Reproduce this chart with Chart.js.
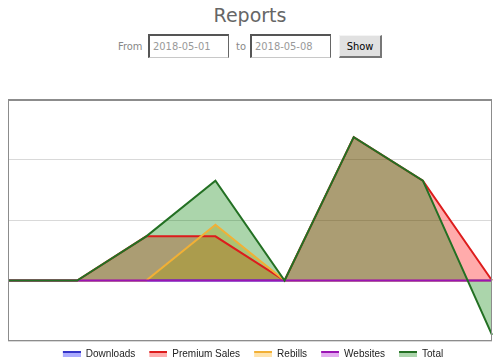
<!DOCTYPE html>
<html>
<head>
<meta charset="utf-8">
<script src="https://cdn.jsdelivr.net/npm/chart.js@4.4.1/dist/chart.umd.min.js"></script>
<style>
  html, body { margin: 0; padding: 0; background: #fff; }
  body { width: 500px; height: 358px; overflow: hidden; position: relative;
         font-family: "DejaVu Sans Condensed", "DejaVu Sans", sans-serif; }
  #title { position: absolute; left: 0; top: 4px; width: 500px; text-align: center;
           font: 19px/22px "DejaVu Sans", sans-serif; color: #666; }
  .lbl { position: absolute; top: 40px; font-size: 11px; line-height: 13px; color: #888; }
  .box { position: absolute; top: 34px; width: 81px; height: 24px; box-sizing: border-box;
         border: 1px solid #666; border-top: 2px solid #555; border-left: 2px solid #555;
         border-bottom-color: #c8c8c8; background: #fff;
         font-size: 11px; line-height: 13px; color: #999; padding: 4px 0 0 3px; }
  #show { position: absolute; left: 339px; top: 35px; width: 43px; height: 23px; box-sizing: border-box;
          background: #e1e1e1; border: 1px solid #f4f4f4; border-right: 2px solid #777; border-bottom: 2px solid #777;
          font-size: 11px; line-height: 13px; color: #000; text-align: center; padding-top: 4px; }
  #c { position: absolute; left: 0; top: 90px; }
</style>
</head>
<body>
<div id="title">Reports</div>
<div class="lbl" style="left:118px">From</div>
<div class="box" style="left:148px">2018-05-01</div>
<div class="lbl" style="left:236px">to</div>
<div class="box" style="left:250px">2018-05-08</div>
<div id="show">Show</div>
<canvas id="c" width="500" height="279"></canvas>
<script>
// ---- data ----
const labels = ['2018-05-01', '2018-05-02', '2018-05-03', '2018-05-04',
                '2018-05-05', '2018-05-06', '2018-05-07', '2018-05-08'];
const seriesNames = ['Downloads', 'Premium Sales', 'Rebills', 'Websites', 'Total'];
const downloads    = [0, 0, 0, 0, 0, 0, 0, 0];
const premiumSales = [0, 0, 73, 73, 0, 237, 165, 0];
const rebills      = [0, 0, 0, 92, 0, 0, 0, 0];
const websites     = [0, 0, 0, 0, 0, 0, 0, 0];
const total        = [0, 0, 73, 165, 0, 237, 165, -90];
const yMin = -100, yMax = 300, yStep = 100;

// ---- styles ----
const lineColors = ['#3535c8', '#dd1c1c', '#f2b035', '#9b14b4', '#237023'];
const fillColors = ['rgba(0,0,255,0.33)', 'rgba(255,0,0,0.33)', 'rgba(255,170,0,0.33)',
                    'rgba(170,0,210,0.33)', 'rgba(0,128,0,0.33)'];
const drawOrder = [5, 4, 3, 2, 1];
const seriesValues = [downloads, premiumSales, rebills, websites, total];

function makeMarker(i) {
  const cv = document.createElement('canvas');
  cv.width = 24; cv.height = 6;
  const g = cv.getContext('2d');
  g.fillStyle = fillColors[i];
  g.fillRect(6, 2, 18, 4);
  g.fillStyle = lineColors[i];
  g.fillRect(6, 0, 18, 2);
  return cv;
}
const markers = seriesNames.map((_, i) => makeMarker(i));

const frame = {
  id: 'frame',
  afterDatasetsDraw(chart) {
    const { ctx, chartArea: a } = chart;
    ctx.save();
    ctx.strokeStyle = '#8c8c8c';
    ctx.lineWidth = 1;
    ctx.strokeRect(a.left + 0.5, a.top + 0.5, a.right - a.left - 1, a.bottom - a.top - 1);
    ctx.fillStyle = '#8c8c8c';
    ctx.fillRect(a.left, a.top, a.right - a.left, 2);
    ctx.restore();
  }
};

new Chart(document.getElementById('c'), {
  type: 'line',
  data: {
    labels: labels,
    datasets: seriesNames.map((name, i) => ({
      label: name,
      data: seriesValues[i],
      borderColor: lineColors[i],
      backgroundColor: fillColors[i],
      borderWidth: 2,
      fill: 'origin',
      tension: 0,
      pointRadius: 0,
      pointHoverRadius: 0,
      order: drawOrder[i]
    }))
  },
  options: {
    responsive: false,
    animation: false,
    devicePixelRatio: 1,
    layout: { padding: { left: 8, right: 8, top: 9, bottom: 0 } },
    scales: {
      x: { display: false },
      y: {
        min: yMin, max: yMax,
        ticks: { display: false, stepSize: yStep },
        grid: { color: '#d9d9d9', drawTicks: false, lineWidth: 1 },
        border: { display: false }
      }
    },
    plugins: {
      filler: { drawTime: 'beforeDatasetsDraw' },
      tooltip: { enabled: false },
      legend: {
        position: 'bottom',
        labels: {
          usePointStyle: true,
          pointStyleWidth: 24,
          padding: 8,
          color: '#222',
          font: { family: '"Liberation Sans", Arial, sans-serif', size: 10 },
          sort: (a, b) => a.datasetIndex - b.datasetIndex,
          generateLabels(chart) {
            const items = Chart.defaults.plugins.legend.labels.generateLabels(chart);
            items.forEach(it => { it.pointStyle = markers[it.datasetIndex]; });
            return items;
          }
        }
      }
    }
  },
  plugins: [frame]
});
</script>
</body>
</html>
